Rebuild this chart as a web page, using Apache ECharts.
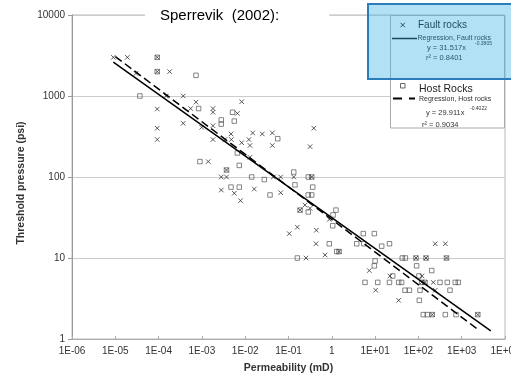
<!DOCTYPE html>
<html><head><meta charset="utf-8">
<script src="https://cdn.jsdelivr.net/npm/echarts@6/dist/echarts.min.js"></script>
<style>html,body{margin:0;padding:0;background:#fff}#c{width:511px;height:375px}</style>
</head><body><div id="c"></div>
<script>
const xTickLabels = ['1E-06','1E-05','1E-04','1E-03','1E-02','1E-01','1','1E+01','1E+02','1E+03','1E+04'];
const yTickLabels = ['1','10','100','1000','10000'];

// Fault rocks (x markers): [permeability mD, threshold pressure psi]
const faultRocks = [
 [9e-6,3000],[1.9e-5,3000],[9.3e-5,3000],[3e-5,1900],[9.3e-5,2000],[1.8e-4,2000],
 [1.5e-4,1000],[3.7e-4,1000],[7.3e-4,840],[8.3e-3,850],[9.3e-5,690],[5.5e-4,700],
 [1.8e-3,700],[1.8e-3,630],[6.6e-3,610],[3.7e-4,460],[9.9e-4,410],[1.8e-3,430],
 [9.3e-5,400],[0.384,400],[9.3e-5,290],[1.8e-3,290],[3.4e-3,290],[4.7e-3,340],
 [4.8e-3,290],[8.3e-3,265],[0.0122,290],[0.0129,245],[0.0149,350],[0.0248,340],
 [0.0423,350],[0.0423,245],[0.314,237],[1.4e-3,155],[0.0129,175],[3.7e-3,122],
 [2.8e-3,100],[3.7e-3,100],[0.0446,100],[0.066,100],[0.132,100],[0.344,100],
 [2.8e-3,69],[5.6e-3,63],[0.0162,71],[0.066,64],[7.8e-3,51],[0.185,39],[0.24,45],
 [0.314,41],[0.875,30],[0.16,24],[0.104,20],[0.44,22],[0.431,15],[1.47,12],[0.7,10.9],
 [0.254,10],[7.35,7],[22,6],[10.3,4],[35,3],[88,10],[150,10],[445,10],[245,15],[419,15],
 [119,5],[142,5],[221,5],[245,4],[121,6],[209,2],[2355,2]
];
// Host rocks (open squares)
const hostRocks = [
 [9.3e-5,3000],[9.3e-5,2000],[7.3e-4,1800],[3.7e-5,1000],[8.4e-4,700],[5.1e-3,630],
 [2.8e-3,506],[2.8e-3,450],[5.6e-3,490],[0.0564,297],[9e-4,155],[6.6e-3,198],
 [7.3e-3,139],[3.7e-3,122],[0.0141,100],[0.0276,93],[0.132,115],[0.141,80],[0.286,100],
 [0.344,100],[0.362,75],[4.7e-3,75],[7.3e-3,75],[0.0374,60],[0.286,60],[0.344,60],
 [0.286,37],[0.185,39],[1.25,39],[1.07,34],[1.05,25],[5.34,20],[9.6,20],[0.875,15],
 [3.76,15],[5.5,15],[14.2,14],[21.5,15],[1.3,12],[1.47,12],[0.16,10],[10,9.2],[9.6,8],
 [42.5,10],[50,10],[88,10],[150,10],[445,10],[91,8],[203,7],[25.5,6],[103,6],
 [5.85,5],[11.5,5],[21.5,5],[35,5],[41,5],[119,5],[142,5],[315,5],[465,5],[711,5],[834,5],
 [49,4],[62,4],[109,4],[537,4],[105,3],[130,2],[160,2],[209,2],[419,2],[740,2],[2355,2]
];
// Regression line end points
const faultLine = [[9e-6,2620],[4700,1.26]];
const hostLine = [[1e-5,3070],[2380,1.31]];

const FONT = '"Liberation Sans", Arial, Helvetica, sans-serif';
const chart = echarts.init(document.getElementById('c'), null, {renderer:'canvas'});
function xLabel(v){ const e = Math.round(Math.log10(v)); const s = xTickLabels[e+6]; return s === undefined ? '' : s; }
function yLabel(v){ const e = Math.round(Math.log10(v)); const s = yTickLabels[e]; return s === undefined ? '' : s; }
const option = {
  animation:false,
  title:{text:'Sperrevik  (2002):', left:145, top:7, padding:[1,50,1,15], backgroundColor:'#fff',
    textStyle:{fontFamily:FONT, fontSize:15, fontWeight:'normal', color:'#000'}},
  grid:{left:72, right:6, top:15, bottom:36, show:true, borderColor:'#bbb', borderWidth:1,
    containLabel:false, outerBoundsMode:'none'},
  xAxis:{type:'log', logBase:10, min:1e-6, max:1e4, interval:1, splitNumber:10,
    axisLine:{lineStyle:{color:'#aaa'}},
    axisTick:{inside:true, length:3, lineStyle:{color:'#aaa'}},
    minorTick:{show:false}, splitLine:{show:false},
    axisLabel:{formatter:xLabel, fontFamily:FONT, fontSize:10, color:'#333', margin:7, hideOverlap:false,
      showMinLabel:true, showMaxLabel:true, alignMinLabel:'center', alignMaxLabel:'center'},
    name:'Permeability (mD)', nameLocation:'middle', nameGap:24,
    nameTextStyle:{fontFamily:FONT, fontSize:10.5, fontWeight:'bold', color:'#333'}},
  yAxis:{type:'log', logBase:10, min:1, max:10000, interval:1, splitNumber:4,
    axisLine:{show:true, lineStyle:{color:'#999'}},
    axisTick:{show:true, length:4, lineStyle:{color:'#999'}},
    minorTick:{show:false},
    splitLine:{show:true, lineStyle:{color:'#ccc', width:1}},
    axisLabel:{formatter:yLabel, fontFamily:FONT, fontSize:10, color:'#333', margin:7},
    name:'Threshold pressure (psi)', nameLocation:'middle', nameGap:39,
    nameTextStyle:{fontFamily:FONT, fontSize:10.5, fontWeight:'bold', color:'#333', padding:[0,12,0,0]}},
  series:[
    {type:'scatter', data:hostRocks, symbol:'rect', symbolSize:4.5, z:2,
      itemStyle:{color:'rgba(255,255,255,0)', borderColor:'#555', borderWidth:0.9}},
    {type:'scatter', data:faultRocks, symbol:'path://M0,0L10,10M10,0L0,10', symbolSize:4.5, z:3,
      itemStyle:{color:'rgba(0,0,0,0)', borderColor:'#333', borderWidth:1}},
    {type:'line', data:faultLine, symbol:'none', z:4, lineStyle:{color:'#000', width:1.5}},
    {type:'line', data:hostLine, symbol:'none', z:4, lineStyle:{color:'#000', width:1.5, type:[8,4]}}
  ],
  graphic:[
    {type:'rect', z:50, shape:{x:390.5, y:15.5, width:114, height:112.5}, style:{fill:'#fff', stroke:'#aaa', lineWidth:1}},
    // fault rocks legend entries
    {type:'line', z:51, shape:{x1:400.5, y1:22.8, x2:404.9, y2:27.2}, style:{stroke:'#111', lineWidth:1}},
    {type:'line', z:51, shape:{x1:404.9, y1:22.8, x2:400.5, y2:27.2}, style:{stroke:'#111', lineWidth:1}},
    {type:'text', z:51, x:418, y:25, style:{text:'Fault rocks', font:'10px '+FONT, fill:'#000', align:'left', verticalAlign:'middle'}},
    {type:'line', z:51, shape:{x1:392, y1:38.5, x2:417, y2:38.5}, style:{stroke:'#000', lineWidth:1.5}},
    {type:'text', z:51, x:417.5, y:38, style:{text:'Regression, Fault rocks', font:'7px '+FONT, fill:'#111', align:'left', verticalAlign:'middle'}},
    {type:'text', z:51, x:427, y:47.5, style:{text:'y = 31.517x', font:'7.5px '+FONT, fill:'#111', align:'left', verticalAlign:'middle'}},
    {type:'text', z:51, x:475, y:43.5, style:{text:'-0.3805', font:'5px '+FONT, fill:'#111', align:'left', verticalAlign:'middle'}},
    {type:'text', z:51, x:426, y:58, style:{text:'r² = 0.8401', font:'7.5px '+FONT, fill:'#111', align:'left', verticalAlign:'middle'}},
    // translucent blue overlay box
    {type:'rect', z:52, shape:{x:368, y:4, width:150, height:75}, style:{fill:'rgba(62,177,230,0.4)', stroke:'#2a7db8', lineWidth:2}},
    // host rocks legend entries
    {type:'rect', z:53, shape:{x:400.5, y:83.5, width:4.5, height:4.5}, style:{fill:'none', stroke:'#555', lineWidth:0.9}},
    {type:'text', z:53, x:419, y:89.5, style:{text:'Host Rocks', font:'10.5px '+FONT, fill:'#222', align:'left', verticalAlign:'middle'}},
    {type:'line', z:53, shape:{x1:393, y1:98.5, x2:402, y2:98.5}, style:{stroke:'#000', lineWidth:2}},
    {type:'line', z:53, shape:{x1:409, y1:98.5, x2:415, y2:98.5}, style:{stroke:'#000', lineWidth:2}},
    {type:'text', z:53, x:419, y:99.5, style:{text:'Regression, Host rocks', font:'7px '+FONT, fill:'#333', align:'left', verticalAlign:'middle'}},
    {type:'text', z:53, x:426, y:112.5, style:{text:'y = 29.911x', font:'7.5px '+FONT, fill:'#333', align:'left', verticalAlign:'middle'}},
    {type:'text', z:53, x:470, y:109, style:{text:'-0.4022', font:'5px '+FONT, fill:'#333', align:'left', verticalAlign:'middle'}},
    {type:'text', z:53, x:422, y:125, style:{text:'r² = 0.9034', font:'7.5px '+FONT, fill:'#333', align:'left', verticalAlign:'middle'}}
  ]
};
chart.setOption(option);
</script></body></html>
